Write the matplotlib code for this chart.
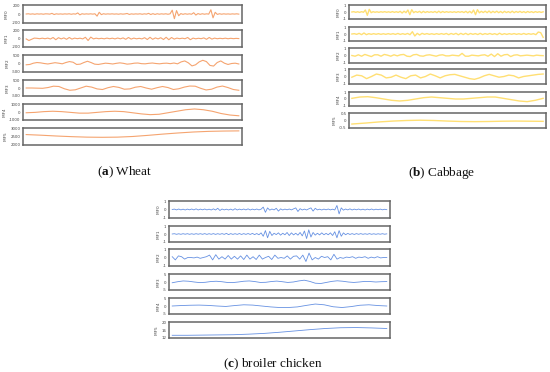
import matplotlib
matplotlib.use("Agg")
import matplotlib.pyplot as plt

W, H = 550, 372

# ---------------- data ----------------
imf_names = ["IMF0", "IMF1", "IMF2", "IMF3", "IMF4", "IMF5"]

wheat_imf0 = [0,5,-4,3,-6,4,-2,3,-5,4, 2,-3,15,-12,4,-3,2,-4,3,-2, 5,-6,4,-3,25,-20,6,-4,3,-2,
              4,-3,5,-50,40,-15,6,-4,3,-2, 4,-3,2,-5,4,-3,2,12,-10,3, -4,3,-2,5,-6,4,-3,15,-12,8,
              -10,6,-5,4,-3,5,-6,4,90,-110, 80,-40,10,-8,6,-5,4,-6,30,-25, 10,-8,6,-5,4,-3,100,-90,40,-10,
              6,-5,4,-3,2,-4,3,-2,4,-3]
wheat_imf1 = [-10,-50,-20,10,5,-5,8,-6,10,-12, 25,-30,20,-10,15,-20,25,-15,10,-5, 8,-10,30,-50,35,-10,8,-6,5,-8,
              10,-6,8,-10,12,-8,15,-20,25,-15, 10,-8,5,-10,20,-25,30,-20,15,-10, 20,-25,30,-30,25,-15,10,-5,8,-6,
              25,-30,10,-8,6,-5,15,-20,25,-15, 10,-6,5,-4,8,-6,5,-4,3,-2]
wheat_imf2 = [-80,-60,20,60,40,0,-30,10,50,20, -20,60,120,80,-60,-40,60,140,60,-40, -60,-20,20,0,-30,10,40,10,-40,-20,
              20,30,-10,-20,10,30,0,-20,10,20, -10,30,-20,100,160,40,-150,-80,100,200, 120,-120,-160,60,160,20,-60,0,20,-30]
wheat_imf3 = [0,0,-10,-20,30,120,100,-50,-150,-120, 0,120,60,-60,-100,20,100,40,-80,-60,
              50,100,0,-80,20,100,30,-100,-50,60, 130,120,-20,-130,-80,60,130,30,-100,-150]
wheat_imf4 = [-100,-50,50,100,50,-50,-150,-150,-50,50,100,50,-100,-250,-350,-300,-100,100,300,400,300,100,-200,-400,-500]
wheat_imf5 = [2620,2580,2530,2490,2460,2450,2460,2500,2570,2650,2720,2780,2820,2840,2850]

cab_imf0 = [0,0.05,-0.05,0.04,-0.06,0.05,-0.04,0.3,-0.5,0.4, -0.1,0.05,-0.04,0.03,-0.05,0.04,-0.03,0.05,-0.04,0.03,
            -0.05,0.06,-0.05,0.04,-0.06,0.1,-0.15,0.12,-0.1,0.3, -0.4,0.35,-0.1,0.08,-0.06,0.1,-0.12,0.1,-0.08,0.06,
            -0.05,0.04,-0.06,0.08,-0.1,0.12,-0.1,0.08,-0.06,0.05, -0.04,0.03,-0.05,0.04,-0.06,0.05,-0.04,0.06,-0.08,0.1,
            -0.12,0.1,-0.15,0.3,-0.4,0.35,-0.12,0.1,-0.08,0.12, -0.1,0.15,-0.12,0.1,-0.08,0.12,-0.1,0.08,-0.12,0.1,
            -0.08,0.06,-0.1,0.12,-0.1,0.08,-0.06,0.1,-0.08,0.06, -0.1,0.08,-0.06,0.05,-0.08,0.06,-0.05,0.04,-0.06,0.03]
cab_imf1 = [0,0.05,-0.05,0.1,-0.1,0.15,-0.1,0.05,-0.05,0.05, -0.04,0.05,-0.05,0.04,-0.05,0.05,-0.04,0.05,-0.06,0.08,
            -0.06,0.05,-0.06,0.08,-0.1,0.35,-0.3,0.1,-0.15,0.1, -0.05,0.06,-0.05,0.04,-0.06,0.05,-0.05,0.06,-0.05,0.08,
            -0.1,0.08,-0.06,0.1,-0.12,0.1,-0.08,0.1,-0.1,0.08, -0.05,0.06,-0.08,0.1,-0.08,0.06,-0.05,0.08,-0.06,0.05,
            -0.1,0.12,-0.08,0.05,-0.06,0.05,-0.04,0.06,-0.05,0.04, -0.06,0.08,-0.06,0.05,-0.04,0.05,-0.1,0.3,0.2,-0.5]
cab_imf2 = [0,-0.1,0.1,-0.1,0.15,0,-0.15,0.1,0.1,-0.1, 0.15,0.05,-0.1,0.1,-0.05,0.1,0.15,-0.1,-0.15,0.1,
            0.15,-0.05,-0.1,0.05,0.1,0,-0.1,0.05,0.1,-0.05, -0.05,0.05,0.0,-0.05,0.3,-0.1,-0.1,0.05,0.0,-0.05,
            0.05,0.1,-0.1,0.2,-0.15,0.25,-0.1,0.1,0.15,-0.15, 0.05,0.1,-0.05,0.0,0.05,0.0,-0.05,0.05,0.0,-0.02]
cab_imf3 = [-0.1,0.2,0.1,-0.3,0.0,0.35,0.2,-0.2,-0.1,0.2, -0.1,-0.3,0.1,0.2,-0.2,0.0,0.35,0.1,-0.2,0.1,
            0.25,0.3,0.1,-0.1,-0.3,-0.4,-0.2,0.1,0.3,0.1, -0.1,0.0,0.2,0.1,-0.2,0.0,0.1,0.2,0.3,0.35]
cab_imf4 = [0.1,0.3,0.35,0.2,0.0,-0.2,-0.3,-0.2,0.0,0.2,0.3,0.2,0.1,0.0,0.0,0.1,0.2,0.3,0.3,0.1,-0.1,-0.3,-0.4,-0.2,0.1]
cab_imf5 = [-0.25,-0.18,-0.1,-0.04,0.0,0.02,0.0,-0.04,-0.07,-0.08,-0.07,-0.05,-0.04,-0.05,-0.06]

chk_imf0 = [0,0.05,-0.05,0.06,-0.05,0.04,-0.06,0.05,-0.04,0.06, -0.05,0.08,-0.06,0.05,-0.04,0.06,-0.05,0.04,-0.06,0.08,
            -0.06,0.15,-0.12,0.06,-0.05,0.04,-0.06,0.05,-0.08,0.1, -0.06,0.05,-0.04,0.06,-0.05,0.08,-0.06,0.05,-0.04,0.06,
            -0.05,0.04,0.3,-0.35,0.2,-0.08,0.06,-0.05,0.15,-0.2, 0.08,-0.06,0.05,-0.04,0.06,-0.05,0.08,0.2,-0.25,0.1,
            -0.06,0.05,-0.06,0.08,0.2,-0.2,0.15,-0.05,0.04,-0.06, 0.05,-0.04,0.06,-0.05,0.04,-0.06,0.5,-0.55,0.2,-0.08,
            0.06,-0.05,0.08,-0.06,0.05,-0.04,0.06,-0.05,0.04,-0.06, 0.05,-0.04,0.06,-0.05,0.04,-0.03,0.05,-0.04,0.03,-0.02]
chk_imf1 = [0,0.04,-0.04,0.03,-0.04,0.04,-0.03,0.04,-0.04,0.03, -0.04,0.04,-0.03,0.04,-0.04,0.05,-0.05,0.04,-0.04,0.05,
            -0.05,0.04,-0.04,0.05,-0.05,0.08,-0.08,0.05,-0.05,0.04, -0.05,0.06,-0.06,0.05,-0.05,0.06,-0.06,0.08,-0.08,0.06,
            -0.1,0.15,-0.3,0.45,-0.5,0.35,-0.2,0.1,-0.08,0.15, -0.15,0.1,-0.1,0.2,-0.2,0.15,-0.12,0.1,-0.15,0.2,
            -0.25,0.4,-0.6,0.55,-0.4,0.2,-0.15,0.1,-0.12,0.15, -0.1,0.08,-0.1,0.15,-0.2,0.3,-0.5,0.45,-0.3,0.15,
            -0.1,0.08,-0.06,0.05,-0.06,0.05,-0.04,0.05,-0.04,0.03, -0.04,0.05,-0.04,0.03,-0.04,0.03,-0.03,0.04,-0.03,0.02]
chk_imf2 = [0.1,-0.3,0.2,0.1,-0.2,0.0,0.0,-0.05,0.05,-0.1, 0.0,0.1,0.3,-0.3,0.35,-0.2,0.1,-0.2,0.25,-0.2,
            0.15,-0.2,0.2,-0.25,0.3,-0.2,0.1,-0.25,0.3,-0.2, 0.0,0.15,-0.25,0.3,-0.1,0.0,-0.1,0.2,-0.2,0.15,
            0.2,-0.2,0.3,-0.5,0.55,-0.3,0.0,-0.2,0.15,0.0, 0.1,-0.3,0.4,-0.2,0.0,-0.1,0.05,0.0,0.1,-0.1,
            0.05,0.0,0.1,-0.1,0.05,-0.05,0.1,-0.05,0.0,0.0]
chk_imf3 = [-0.5,0.2,0.7,0.5,0.0,-0.4,-0.2,0.3,0.5,0.2, -0.3,-0.4,0.0,0.5,0.7,0.3,-0.3,-0.2,0.3,0.6,
            0.2,-0.3,0.0,0.7,1.2,0.4,-0.8,-1.0,-0.3,0.4, 0.8,0.5,0.0,-0.3,0.0,0.4,0.3,0.0,0.2,0.3]
chk_imf4 = [0.0,0.3,0.5,0.6,0.4,0.0,-0.3,0.3,0.8,0.6,0.0,-0.6,-1.0,-1.0,-0.6,0.4,1.3,0.8,-0.5,-1.0,-0.4,0.5,0.8,0.3,0.0]
chk_imf5 = [13.2,13.2,13.3,13.4,13.5,13.8,14.2,14.8,15.5,16.2,16.8,17.2,17.3,17.1,16.8]

wheat_ticks = [[-200, 0, 200], [-200, 0, 200], [-500, 0, 500], [-500, 0, 500], [-1000, 0, 1000], [2000, 2500, 3000]]
wheat_lims = [(-200, 200), (-200, 200), (-500, 500), (-500, 500), (-1000, 1000), (2000, 3000)]
cab_ticks = [[-1, 0, 1]] * 5 + [[-0.5, 0, 0.5]]
cab_lims = [(-1, 1)] * 5 + [(-0.5, 0.5)]
chk_ticks = [[-1, 0, 1]] * 3 + [[-5, 0, 5], [-5, 0, 5], [12, 16, 20]]
chk_lims = [(-1, 1)] * 3 + [(-5, 5), (-5, 5), (12, 20)]

wheat_series = [wheat_imf0, wheat_imf1, wheat_imf2, wheat_imf3, wheat_imf4, wheat_imf5]
cab_series = [cab_imf0, cab_imf1, cab_imf2, cab_imf3, cab_imf4, cab_imf5]
chk_series = [chk_imf0, chk_imf1, chk_imf2, chk_imf3, chk_imf4, chk_imf5]

captions = [("a", "Wheat"), ("b", "Cabbage"), ("c", "broiler chicken")]

# ---------------- layout ----------------
plt.rcParams["mathtext.fontset"] = "custom"
plt.rcParams["mathtext.bf"] = "Liberation Serif:bold"
plt.rcParams["mathtext.rm"] = "Liberation Serif"

fig = plt.figure(figsize=(W / 100, H / 100), dpi=100)
fig.patch.set_facecolor("white")


def px_axes(x0, y0, x1, y1):
    return fig.add_axes([x0 / W, 1 - y1 / H, (x1 - x0) / W, (y1 - y0) / H])


def draw_panel(x0, x1, boxes, series, ticks, lims, color, lw):
    for (y0, y1), s, tk, lm, nm in zip(boxes, series, ticks, lims, imf_names):
        ax = px_axes(x0, y0, x1, y1)
        n = len(s) - 1
        ax.plot(range(len(s)), s, color=color, lw=lw)
        ax.set_xlim(-0.015 * n, 1.015 * n)
        pad = (lm[1] - lm[0]) * 0.03
        ax.set_ylim(lm[0] - pad, lm[1] + pad)
        ax.set_yticks(tk)
        ax.set_yticklabels([f"{t:g}" for t in tk])
        ax.set_xticks([])
        ax.tick_params(axis="y", length=0, pad=1.8, labelsize=2.8, labelcolor="#444444")
        ax.set_ylabel(nm, fontsize=3.0, color="#444444", labelpad=1.8)
        for sp in ax.spines.values():
            sp.set_color("#666666")
            sp.set_linewidth(1.1)


wheat_boxes = [(5, 23), (30, 47), (55, 72), (80, 96), (104, 120), (128, 145)]
cab_boxes = [(5, 19), (27, 41), (48, 63), (69, 84), (92, 106), (113, 128)]
chk_boxes = [(201, 218), (226, 242), (249, 266), (274, 290), (298, 314), (322, 338)]

draw_panel(23, 242, wheat_boxes, wheat_series, wheat_ticks, wheat_lims, "#F5A470", 0.8)
draw_panel(349, 546, cab_boxes, cab_series, cab_ticks, cab_lims, "#FFDF73", 1.0)
draw_panel(169, 390, chk_boxes, chk_series, chk_ticks, chk_lims, "#6691E2", 0.6)

cap_pos = [(125, 172), (442, 173), (273, 364)]
for (letter, name), (cx, cy) in zip(captions, cap_pos):
    fig.text(cx / W, 1 - cy / H, rf"($\mathbf{{{letter}}}$) {name}", ha="center", va="center",
             fontsize=9.5, family="Liberation Serif", color="#111111")

fig.savefig("out.png", dpi=100, facecolor="white")
